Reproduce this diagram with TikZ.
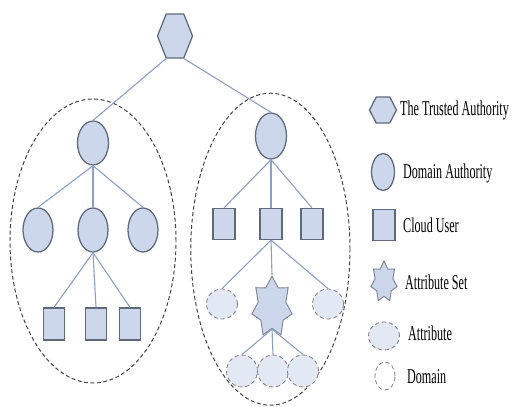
\documentclass[tikz,border=0pt]{standalone}
\usepackage{fontspec}
\setmainfont{Liberation Serif}
\usepackage{xcolor}
\usepackage{tikz}
\usetikzlibrary{shapes.geometric}

\definecolor{nodefill}{RGB}{205,215,235}
\definecolor{nodeline}{RGB}{95,105,125}
\definecolor{linkcol}{RGB}{140,160,198}
\definecolor{attrfill}{RGB}{226,233,245}

\begin{document}
\begin{tikzpicture}[
  trusted/.style={regular polygon, regular polygon sides=6, draw=nodeline, fill=nodefill, line width=0.9pt, inner sep=0pt},
  dauth/.style={ellipse, draw=nodeline, fill=nodefill, line width=0.9pt, inner sep=0pt, minimum width=0.775cm, minimum height=1.1cm},
  cuser/.style={rectangle, draw=nodeline, fill=nodefill, line width=0.9pt, inner sep=0pt, minimum width=0.55cm, minimum height=0.8cm},
  aset/.style={star, star points=7, star point ratio=1.45, draw=nodeline!80, fill=nodefill, line width=0.7pt, inner sep=0pt},
  attr/.style={ellipse, draw=gray, densely dashed, fill=attrfill, line width=0.6pt, inner sep=0pt, minimum width=0.775cm, minimum height=0.775cm},
  domline/.style={draw=darkgray, line width=0.7pt, dash pattern=on 2.8pt off 1.8pt},
  link/.style={draw=linkcol, line width=0.8pt},
  legtext/.style={anchor=west, inner sep=0pt, xscale=0.575, font=\fontsize{15}{17}\selectfont}
]
\useasboundingbox (0,0) rectangle (12.9,10.15);

% domains
\draw[domline] (2.325,4.125) ellipse (2.075cm and 3.55cm);
\draw[domline] (6.76,3.92) ellipse (1.99cm and 3.9cm);

\node[trusted, minimum size=1.27cm, xscale=0.69] (ta) at (4.375,9.25) {};

% left domain
\node[dauth] (lda) at (2.325,6.575) {};
\node[dauth, minimum width=0.75cm] (la1) at (0.95,4.4) {};
\node[dauth, minimum width=0.75cm] (la2) at (2.325,4.4) {};
\node[dauth, minimum width=0.75cm] (la3) at (3.575,4.4) {};
\node[cuser, minimum width=0.525cm] (lu1) at (1.35,2.05) {};
\node[cuser, minimum width=0.525cm] (lu2) at (2.4,2.05) {};
\node[cuser, minimum width=0.525cm] (lu3) at (3.25,2.05) {};

% right domain
\node[dauth, minimum height=1.15cm] (rda) at (6.775,6.75) {};
\node[cuser, minimum height=0.775cm] (ru1) at (5.6,4.55) {};
\node[cuser, minimum height=0.775cm] (ru2) at (6.775,4.55) {};
\node[cuser, minimum height=0.775cm] (ru3) at (7.8,4.55) {};
\node[attr, minimum height=0.75cm] (at1) at (5.55,2.55) {};
\node[aset, minimum size=1.03cm, yscale=1.5] (as) at (6.8,2.475) {};
\node[attr, minimum height=0.75cm] (at2) at (8.2,2.55) {};
\node[attr, minimum height=0.8cm] (ab1) at (6.05,0.875) {};
\node[attr, minimum height=0.8cm] (ab2) at (6.825,0.875) {};
\node[attr, minimum height=0.8cm] (ab3) at (7.575,0.875) {};

\draw[link] (ta.240) -- (lda.north);
\draw[link] (ta.300) -- (rda.north);
\draw[link] (lda.south) -- (la1.north);
\draw[link] (lda.south) -- (la2.north);
\draw[link] (lda.south) -- (la3.north);
\draw[link] (la2.south) -- (lu1.north);
\draw[link] (la2.south) -- (lu2.north);
\draw[link] (la2.south) -- (lu3.north);
\draw[link] (rda.south) -- (ru1.north);
\draw[link] (rda.south) -- (ru2.north);
\draw[link] (rda.south) -- (ru3.north);
\draw[link] (ru2.south) -- (at1.north);
\draw[link] (ru2.south) -- (as.north);
\draw[link] (ru2.south) -- (at2.north);
\draw[link] (as.south) -- (ab1.north);
\draw[link] (as.south) -- (ab2.north);
\draw[link] (as.south) -- (ab3.north);

% legend
\node[trusted, minimum size=0.75cm, xscale=0.9] (kta) at (9.575,7.4) {};
\node[dauth, minimum width=0.575cm, minimum height=0.925cm] (kda) at (9.575,5.85) {};
\node[cuser, minimum height=0.775cm] (kcu) at (9.6,4.525) {};
\node[aset, minimum size=0.667cm, yscale=1.55] (kas) at (9.6,3.1) {};
\node[attr, minimum height=0.7cm] (kat) at (9.6,1.75) {};
\node[draw=gray, densely dashed, line width=0.6pt, ellipse, inner sep=0pt, minimum width=0.5cm, minimum height=0.7cm] (kdo) at (9.625,0.75) {};

\node[legtext] (tta) at (10.0,7.4) {The Trusted Authority};
\node[legtext] (tda) at (10.075,5.825) {Domain Authority};
\node[legtext] (tcu) at (10.075,4.525) {Cloud User};
\node[legtext] (tas) at (10.125,3.1) {Attribute Set};
\node[legtext] (tat) at (10.2,1.825) {Attribute};
\node[legtext] (tdo) at (10.175,0.725) {Domain};

\end{tikzpicture}
\end{document}
